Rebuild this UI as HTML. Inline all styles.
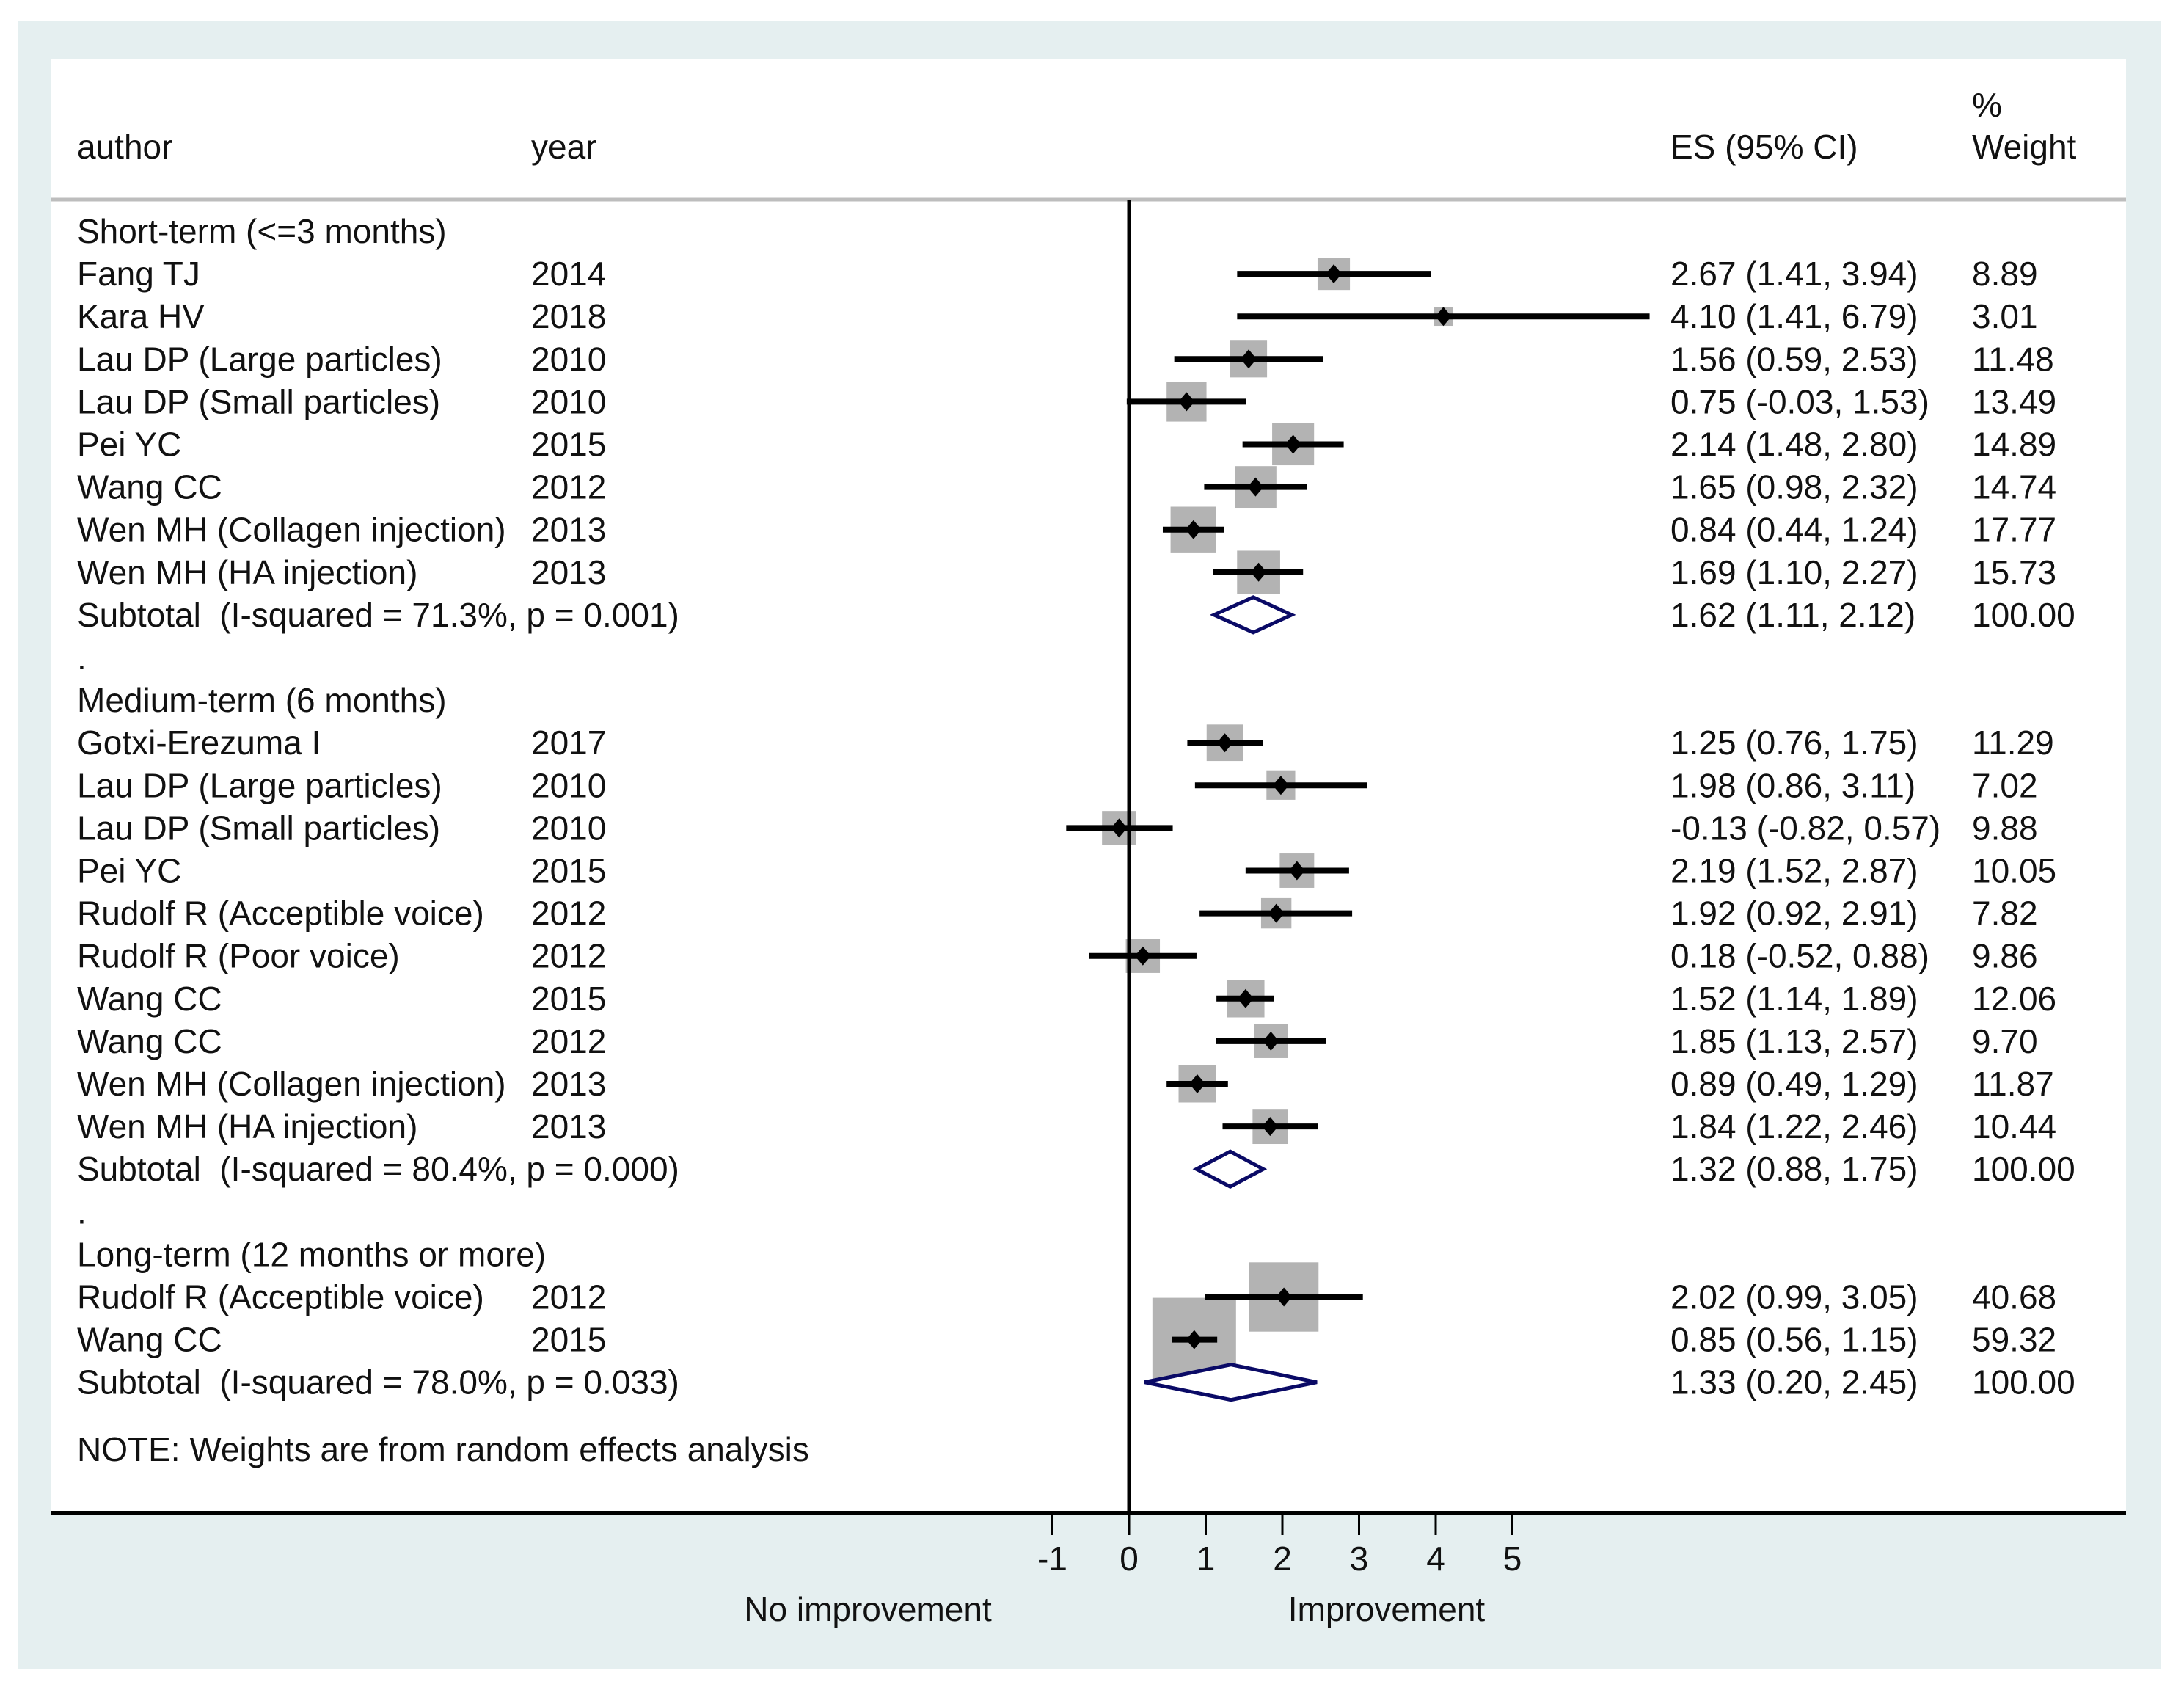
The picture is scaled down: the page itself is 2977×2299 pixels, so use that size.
<!DOCTYPE html>
<html><head><meta charset="utf-8">
<style>
html,body{margin:0;padding:0;background:#fff;}
svg{display:block;}
text{font-family:"Liberation Sans",Arial,sans-serif;font-size:46px;fill:#111;dominant-baseline:central;white-space:pre;}
</style></head>
<body>
<svg id="chart" width="2977" height="2299" viewBox="0 0 2977 2299" xmlns="http://www.w3.org/2000/svg" xml:space="preserve">
<rect x="25" y="29" width="2928" height="2254" fill="#ffffff"/>
<rect x="25" y="29" width="2920" height="2246" fill="#e5eff0"/>
<rect x="69" y="80" width="2829" height="1982" fill="#ffffff"/>
<text x="105" y="200">author</text>
<text x="724" y="200">year</text>
<text x="2277" y="200">ES (95% CI)</text>
<text x="2688" y="143">%</text>
<text x="2688" y="200">Weight</text>
<line x1="69" x2="2898" y1="272" y2="272" stroke="#bdbdbd" stroke-width="5"/>
<g id="marks"></g>
<line x1="1539" x2="1539" y1="272" y2="2062" stroke="#000" stroke-width="5"/>
<line x1="69" x2="2898" y1="2062" y2="2062" stroke="#000" stroke-width="6"/>
<g id="axis"></g>
<text x="1183" y="2193" text-anchor="middle">No improvement</text>
<text x="1890" y="2193" text-anchor="middle">Improvement</text>
</svg>
<script>
// data
const rowTypes = ['h','s','s','s','s','s','s','s','s','t','d','h','s','s','s','s','s','s','s','s','s','s','t','d','h','s','s','t','b','n'];
const labels = ['Short-term (<=3 months)','Fang TJ','Kara HV','Lau DP (Large particles)','Lau DP (Small particles)','Pei YC','Wang CC','Wen MH (Collagen injection)','Wen MH (HA injection)','Subtotal  (I-squared = 71.3%, p = 0.001)','.','Medium-term (6 months)','Gotxi-Erezuma I','Lau DP (Large particles)','Lau DP (Small particles)','Pei YC','Rudolf R (Acceptible voice)','Rudolf R (Poor voice)','Wang CC','Wang CC','Wen MH (Collagen injection)','Wen MH (HA injection)','Subtotal  (I-squared = 80.4%, p = 0.000)','.','Long-term (12 months or more)','Rudolf R (Acceptible voice)','Wang CC','Subtotal  (I-squared = 78.0%, p = 0.033)','','NOTE: Weights are from random effects analysis'];
const years = ['','2014','2018','2010','2010','2015','2012','2013','2013','','','','2017','2010','2010','2015','2012','2012','2015','2012','2013','2013','','','','2012','2015','','',''];
const es = [null,2.67,4.10,1.56,0.75,2.14,1.65,0.84,1.69,1.62,null,null,1.25,1.98,-0.13,2.19,1.92,0.18,1.52,1.85,0.89,1.84,1.32,null,null,2.02,0.85,1.33,null,null];
const lo = [null,1.41,1.41,0.59,-0.03,1.48,0.98,0.44,1.10,1.11,null,null,0.76,0.86,-0.82,1.52,0.92,-0.52,1.14,1.13,0.49,1.22,0.88,null,null,0.99,0.56,0.20,null,null];
const hi = [null,3.94,6.79,2.53,1.53,2.80,2.32,1.24,2.27,2.12,null,null,1.75,3.11,0.57,2.87,2.91,0.88,1.89,2.57,1.29,2.46,1.75,null,null,3.05,1.15,2.45,null,null];
const weights = [null,8.89,3.01,11.48,13.49,14.89,14.74,17.77,15.73,100.00,null,null,11.29,7.02,9.88,10.05,7.82,9.86,12.06,9.70,11.87,10.44,100.00,null,null,40.68,59.32,100.00,null,null];
const ticks = [-1,0,1,2,3,4,5];

const NS='http://www.w3.org/2000/svg';
const X0=1539, UNIT=104.5, XMAX=6.83;
function xs(v){return X0+UNIT*Math.min(v,XMAX);}
function ys(i){return i===29?1975:315+58.1*i;}
function mk(tag,attrs,parent){const e=document.createElementNS(NS,tag);for(const k in attrs)e.setAttribute(k,attrs[k]);parent.appendChild(e);return e;}
const g=document.getElementById('marks');
const f=v=>v.toFixed(2);
rowTypes.forEach((t,i)=>{
  const y=ys(i);
  if(labels[i]){
    const tx=mk('text',{x:105,y:y},g);tx.textContent=labels[i];
    
    
  }
  if(years[i]){
    const ty=mk('text',{x:724,y:y},g);ty.textContent=years[i];
    
    
  }
  if(es[i]!==null){
    const te=mk('text',{x:2277,y:y},g);te.textContent=f(es[i])+' ('+f(lo[i])+', '+f(hi[i])+')';
    
    
    const tw=mk('text',{x:2688,y:y},g);tw.textContent=f(weights[i]);
    
    
  }
  if(t==='s'){
    const s=14.8*Math.sqrt(weights[i]);
    const b=mk('rect',{x:xs(es[i])-s/2,y:y-s/2,width:s,height:s,fill:'#b3b3b3'},g);
    
    
  }
});
rowTypes.forEach((t,i)=>{
  const y=ys(i);
  if(t==='s'){
    const l=mk('line',{x1:xs(lo[i]),x2:xs(hi[i]),y1:y,y2:y,stroke:'#000','stroke-width':8},g);
    
    
    const c=xs(es[i]);
    const p=mk('polygon',{points:`${c-11},${y} ${c},${y-13} ${c+11},${y} ${c},${y+13}`,fill:'#000'},g);
    
    
  } else if(t==='t'){
    const a=xs(lo[i]),c=xs(es[i]),b=xs(hi[i]);
    const d=mk('polygon',{points:`${a},${y} ${c},${y-24} ${b},${y} ${c},${y+24}`,fill:'#fff',stroke:'#0a0a66','stroke-width':5},g);
    
    
  }
});
const ax=document.getElementById('axis');
ticks.forEach(v=>{
  const x=xs(v);
  const l=mk('line',{x1:x,x2:x,y1:2062,y2:2092,stroke:'#000','stroke-width':3},ax);
  
  
  const t=mk('text',{x:x,y:2124,'text-anchor':'middle'},ax);t.textContent=String(v);
  
  
});
</script>
</body></html>
